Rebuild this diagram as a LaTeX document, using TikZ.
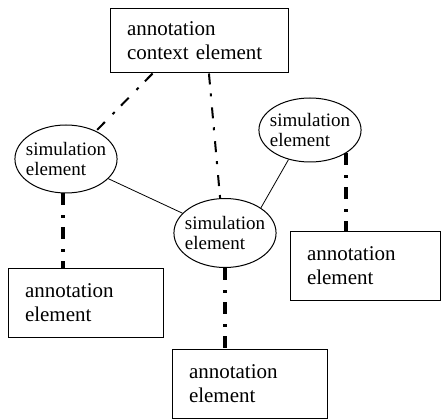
\documentclass[tikz,border=0pt]{standalone}
\usepackage{fontspec}
\setmainfont{Liberation Serif}
\usetikzlibrary{shapes.geometric}
\begin{document}
\begin{tikzpicture}[x=1pt, y=-1pt,
        annot/.style={draw, rectangle, line width=1pt, minimum height=68pt, inner xsep=17pt, align=left, font=\fontsize{21}{24}\selectfont},
        sim/.style={draw, ellipse, line width=1pt, inner xsep=-4pt, inner ysep=0pt, minimum width=102pt, minimum height=68pt, align=left, font=\fontsize{19}{20}\selectfont},
        ctxlink/.style={line width=2pt, dash pattern=on 11pt off 9pt on 3pt off 11pt},
        annlink/.style={line width=3.5pt, dash pattern=on 12pt off 10pt on 3pt off 9pt}]
        \useasboundingbox (0,0) rectangle (441,419);

        \node[annot, text width=144pt, minimum height=64pt] (ctx) at (199,41) {annotation\\context element};
        \node[sim] (simL) at (66,159) {simulation\\element};
        \node[sim, minimum height=64pt] (simR) at (310,130) {simulation\\element};
        \node[sim, minimum height=69pt] (simC) at (225,233) {simulation\\element};
        \node[annot, text width=121pt] (annL) at (85.5,303) {annotation\\element};
        \node[annot, text width=116pt] (annR) at (365,266) {annotation\\element};
        \node[annot, text width=121pt, minimum height=69pt] (annB) at (249.5,383.5) {annotation\\element};

        \draw[ctxlink] (ctx.215) -- (simL.43);
        \draw[ctxlink] (ctx.287) -- (simC.98);
        \draw[line width=0.8pt] (simL) -- (simC);
        \draw[line width=0.8pt] (simR.234) -- (simC.35);
        \draw[annlink] (simL.265) -- (simL.265 |- annL.north);
        \draw[annlink] (simR.-33) -- (simR.-33 |- annR.north);
        \draw[annlink] (simC.south) -- (simC.south |- annB.north);
    \end{tikzpicture}
\end{document}
